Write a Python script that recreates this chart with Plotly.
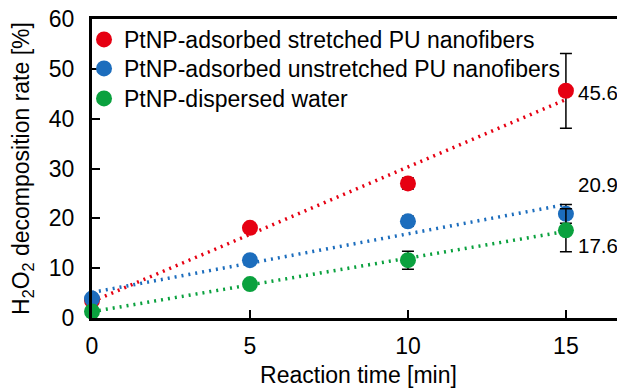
import numpy as np
import plotly.graph_objects as go

time_min = [0, 5, 10, 15]
series_names = [
    "PtNP-adsorbed stretched PU nanofibers",
    "PtNP-adsorbed unstretched PU nanofibers",
    "PtNP-dispersed water",
]
stretched = [3.5, 18.1, 27.0, 45.6]
stretched_err = [0.5, 0.6, 1.1, 7.5]
unstretched = [3.9, 11.6, 19.4, 20.9]
unstretched_err = [0.4, 0.5, 1.0, 1.9]
water = [1.3, 6.8, 11.6, 17.6]
water_err = [0.3, 0.4, 1.8, 4.3]
end_labels = ["45.6", "20.9", "17.6"]
label_y = [45.3, 26.7, 14.6]
colors = ["#E60012", "#1C6DBD", "#0AA13E"]

values = [stretched, unstretched, water]
errors = [stretched_err, unstretched_err, water_err]

FONT = "Liberation Sans, Arial, sans-serif"
# page body adds an 8px offset, so the figure is 8px smaller than the window
W, H = 617, 380
ML, MT, MB, MR = 84, 11, 70, 0
plot_h = H - MT - MB

fig = go.Figure()
x_arr = np.array(time_min, dtype=float)
for name, ys, col in zip(series_names, values, colors):
    k, b = np.polyfit(x_arr, np.array(ys), 1)
    xs = [x_arr[0], x_arr[-1]]
    fig.add_trace(go.Scatter(
        x=xs, y=[k * v + b for v in xs], mode="lines",
        line=dict(color=col, width=3.5, dash="2px,5px"),
        showlegend=False, hoverinfo="skip", cliponaxis=False,
    ))

legend_ids = ["legend", "legend2", "legend3"]
for name, ys, es, col, lg in zip(series_names, values, errors, colors, legend_ids):
    fig.add_trace(go.Scatter(
        x=time_min, y=ys, mode="markers", name=name, legend=lg,
        marker=dict(color=col, size=16, line=dict(width=0)),
        error_y=dict(type="data", array=es, visible=True, color="black",
                     thickness=1.5, width=6),
        cliponaxis=False,
    ))

for txt, yv in zip(end_labels, label_y):
    fig.add_annotation(x=15, y=yv, text=txt, showarrow=False,
                       xanchor="left", xshift=10,
                       font=dict(size=20.5, color="black", family=FONT))

legend_common = dict(xanchor="left", yanchor="top", bgcolor="rgba(0,0,0,0)",
                     font=dict(size=23, family=FONT), itemwidth=30)
row_top_px = [-1, 28, 58]
legend_layout = {}
for lg, off in zip(legend_ids, row_top_px):
    legend_layout[lg] = dict(x=-0.015, y=1 - off / plot_h, **legend_common)

fig.update_layout(
    width=W, height=H,
    margin=dict(l=ML, r=MR, t=MT, b=MB, autoexpand=False),
    paper_bgcolor="white", plot_bgcolor="white",
    font=dict(family=FONT, size=23, color="black"),
    showlegend=True,
    **legend_layout,
)
fig.update_xaxes(
    range=[0, 16.87], tickvals=[0, 5, 10, 15], ticks="inside", ticklen=8,
    tickwidth=2, tickcolor="black", showline=True, linewidth=3, linecolor="black",
    mirror=True, showgrid=False, zeroline=False, automargin=False,
    ticklabelstandoff=5, ticklabeloverflow="allow",
    title=dict(text="Reaction time [min]", standoff=12, font=dict(size=23)),
    tickfont=dict(size=23),
)
fig.update_yaxes(
    range=[0, 60], tickvals=[0, 10, 20, 30, 40, 50, 60], ticks="inside", ticklen=8,
    tickwidth=2, tickcolor="black", showline=True, linewidth=3, linecolor="black",
    showgrid=False, zeroline=False, automargin=False,
    ticklabelstandoff=10, ticklabeloverflow="allow",
    title=dict(text="H<sub>2</sub>O<sub>2</sub> decomposition rate [%]", standoff=20,
               font=dict(size=23)),
    tickfont=dict(size=23),
)
fig.write_html("out.html")
